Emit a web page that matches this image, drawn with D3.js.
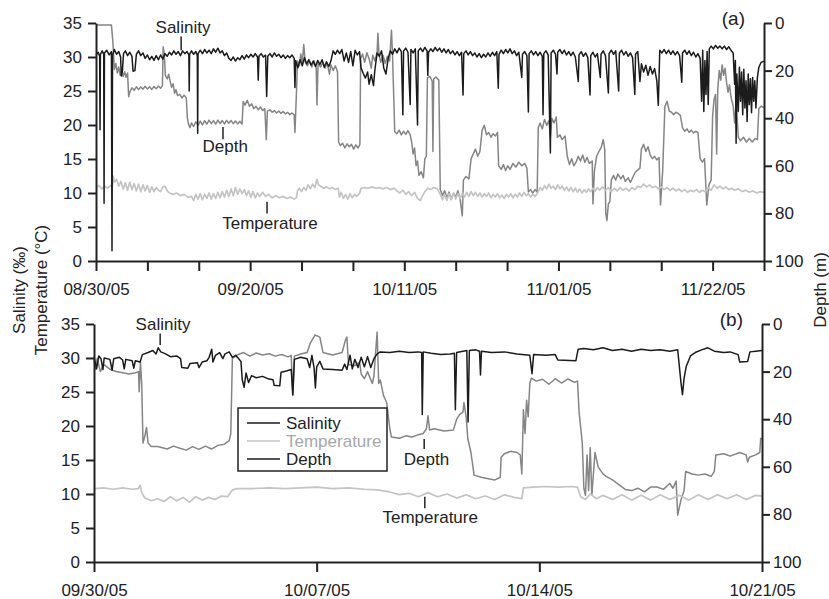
<!DOCTYPE html>
<html>
<head>
<meta charset="utf-8">
<script src="https://cdn.jsdelivr.net/npm/d3@7"></script>
<style>
  body { margin: 0; background: #fff; }
  svg { font-family: "Liberation Sans", Arial, Helvetica, sans-serif; }
</style>
</head>
<body>
<svg id="chart" width="829" height="599"></svg>
<script>
const colours = {
  salinity: '#1b1b1b',
  temperature: '#c4c4c4',
  depth: '#858585',
  axis: '#222',
  legendTemp: '#a8a8a8',
};

// ---- panel (a): days since 08/30/05 ----
const salinityA = [
  [0,30.3],[0.3,30.7],[0.5,30.1],[0.55,19.3],[0.6,30.4],[0.85,30.9],[1.05,30.4],[1.1,8.5],[1.15,30.6],
  [1.45,31.0],[1.8,30.3],[2.1,30.8],[2.18,1.5],[2.25,30.2],[2.5,31.1],[2.8,30.4],[3.1,30.8],[3.35,30.0],
  [3.45,27.2],[3.6,28.0],[3.75,30.5],[4.0,30.9],[4.3,30.2],[4.6,30.7],[4.9,30.1],[5.05,27.9],[5.3,28.0],
  [5.5,30.4],[5.8,30.9],[6.1,30.2],[6.4,30.6],[6.7,29.8],[7.0,30.3],[7.3,29.6],[7.6,30.1],[7.9,29.5],
  [8.2,30.2],[8.5,29.6],[8.8,30.3],[9.1,29.7],[9.4,30.5],[9.7,30.1],[10.0,30.7],[10.3,30.3],[10.6,30.9],
  [10.9,30.4],[11.2,30.8],[11.5,30.2],[11.8,30.9],[12.1,30.5],[12.4,30.8],[12.65,30.3],[12.7,25.0],
  [12.75,30.4],[13.0,30.9],[13.3,30.4],[13.6,30.8],[13.8,30.2],[13.85,18.8],[13.9,30.5],[14.2,31.0],
  [14.5,30.5],[14.8,31.1],[15.1,30.6],[15.4,31.0],[15.7,30.5],[16.0,31.2],[16.3,30.7],[16.6,31.3],
  [16.9,30.6],[17.2,30.9],[17.5,30.2],[17.8,30.6],[18.1,29.8],[18.4,29.5],[18.7,30.0],[19.0,29.4],
  [19.3,29.9],[19.6,29.6],[19.9,30.2],[20.2,29.7],[20.5,30.3],[20.8,29.9],[21.1,30.4],[21.4,30.0],
  [21.7,30.5],[22.0,30.0],[22.1,26.6],[22.2,30.1],[22.5,30.5],[22.8,30.0],[23.1,30.3],[23.25,24.2],
  [23.4,30.1],[23.7,30.5],[24.0,30.0],[24.3,30.6],[24.6,30.1],[24.9,30.4],[25.2,29.9],[25.5,30.3],
  [25.8,29.8],[26.1,30.2],[26.4,29.9],[26.7,30.3],[27.0,29.8],[27.1,25.5],[27.2,29.5],[27.5,28.4],
  [27.8,29.6],[28.1,28.7],[28.4,29.9],[28.7,29.0],[29.0,29.6],[29.3,28.8],[29.6,29.4],[29.9,28.6],
  [30.2,29.5],[30.5,28.9],[30.8,29.6],[31.1,28.5],[31.4,29.3],[31.7,28.6],[32.0,29.4],[32.3,30.9],
  [32.6,30.4],[32.9,31.0],[33.2,30.5],[33.5,31.1],[33.8,29.4],[34.1,30.6],[34.4,29.2],[34.7,30.8],
  [35.0,28.7],[35.3,31.0],[35.6,30.3],[35.9,30.8],[36.1,28.4],[36.4,27.6],[36.7,26.9],[37.0,27.8],
  [37.2,26.0],[37.5,27.4],[37.8,25.8],[38.0,28.2],[38.3,30.6],[38.6,30.1],[38.9,30.9],[39.2,28.4],
  [39.5,27.5],[39.8,29.8],[40.1,30.9],[40.4,30.4],[40.7,31.2],[41.0,30.6],[41.3,31.3],[41.6,30.8],
  [41.8,21.5],[41.9,30.9],[42.2,31.3],[42.5,30.7],[42.8,23.0],[42.9,31.1],[43.2,30.6],[43.5,31.2],
  [43.8,20.0],[43.9,30.9],[44.2,31.3],[44.5,30.8],[44.8,31.4],[45.1,30.9],[45.2,27.3],[45.3,30.7],
  [45.6,31.2],[45.9,30.8],[46.2,31.4],[46.5,30.9],[46.8,31.3],[47.1,30.7],[47.4,31.2],[47.7,30.6],
  [48.0,31.1],[48.3,30.5],[48.6,30.9],[48.9,30.3],[49.2,30.8],[49.5,30.2],[49.8,30.7],[50.0,24.4],
  [50.1,30.5],[50.4,30.9],[50.7,30.3],[51.0,30.8],[51.3,30.2],[51.6,30.6],[51.9,30.0],[52.2,30.5],
  [52.5,29.9],[52.8,30.4],[53.1,30.0],[53.4,30.6],[53.7,30.1],[54.0,30.7],[54.3,30.2],[54.6,30.8],
  [54.8,25.4],[54.9,30.4],[55.2,31.0],[55.5,30.5],[55.8,31.1],[56.1,30.6],[56.4,31.2],[56.7,30.5],
  [57.0,30.9],[57.3,30.2],[57.6,30.7],[58.0,27.0],[58.1,30.4],[58.4,30.8],[58.7,30.2],[58.9,21.9],
  [59.0,30.5],[59.3,30.9],[59.6,30.3],[59.9,30.8],[60.2,30.2],[60.5,30.7],[60.8,30.1],[60.9,21.5],
  [61.0,30.5],[61.3,30.9],[61.6,30.3],[61.9,15.9],[62.0,30.6],[62.3,31.0],[62.6,30.4],[62.8,27.5],
  [62.9,30.7],[63.2,31.1],[63.5,30.5],[63.8,31.0],[64.1,30.3],[64.4,30.8],[64.7,30.2],[65.0,30.7],
  [65.3,30.0],[65.7,26.4],[65.8,30.3],[66.1,30.8],[66.4,30.1],[66.7,30.6],[67.0,29.9],[67.3,24.4],
  [67.4,30.2],[67.7,30.7],[68.0,30.0],[68.3,30.5],[68.7,27.0],[68.8,30.4],[69.1,30.9],[69.4,30.2],
  [69.8,24.7],[69.9,30.5],[70.2,31.0],[70.5,30.4],[70.8,30.9],[71.2,25.0],[71.3,30.6],[71.6,31.0],
  [71.9,30.3],[72.2,30.8],[72.5,30.1],[72.8,30.6],[73.1,29.9],[73.4,24.5],[73.5,30.4],[73.8,30.8],
  [74.1,26.4],[74.3,29.0],[74.6,27.8],[74.9,28.8],[75.2,27.3],[75.5,28.6],[75.8,27.5],[76.1,28.3],
  [76.4,26.5],[76.6,22.9],[76.8,31.0],[77.1,30.6],[77.4,31.1],[77.7,30.5],[78.0,31.0],[78.3,30.4],
  [78.6,30.9],[78.9,30.3],[79.2,30.8],[79.5,30.2],[79.8,26.3],[79.9,30.6],[80.2,31.0],[80.5,30.4],
  [80.8,30.9],[81.1,30.2],[81.4,30.7],[81.7,30.0],[82.0,30.5],[82.3,29.8],[82.5,23.5],[82.65,31.0],
  [82.8,22.0],[82.95,29.5],[83.1,24.5],[83.25,30.8],[83.4,23.0],[83.55,31.2],[83.8,31.6],[84.1,31.2],
  [84.4,31.7],[84.7,31.3],[85.0,31.6],[85.3,31.2],[85.6,31.6],[85.9,31.1],[86.2,31.5],[86.5,31.0],
  [86.8,30.6],[87.0,26.0],[87.1,29.5],[87.2,17.3],[87.3,27.5],[87.5,22.0],[87.65,28.5],[87.8,23.5],
  [87.95,27.8],[88.1,21.5],[88.25,28.2],[88.4,22.5],[88.55,26.5],[88.7,20.5],[88.85,27.5],[89.0,23.0],
  [89.15,26.8],[89.3,21.8],[89.45,27.0],[89.6,23.5],[89.75,26.5],[89.9,22.5],[90.1,27.0],[90.3,28.5],
  [90.6,29.2],[91.0,29.4],
];

const temperatureA = [
  [0,10.8],[0.4,11.1],[0.8,10.6],[1.2,11.0],[1.6,10.7],[2.0,11.1],[2.2,10.8],[2.35,12.5],[2.5,11.6],
  [2.8,12.0],[3.1,11.0],[3.4,11.7],[3.7,10.6],[4.0,11.5],[4.3,10.4],[4.6,11.6],[4.9,10.5],[5.2,11.4],
  [5.5,10.3],[5.8,11.3],[6.1,10.2],[6.4,11.2],[6.7,10.3],[7.0,11.1],[7.3,10.1],[7.6,10.9],[7.9,10.2],
  [8.2,10.8],[8.5,10.4],[8.8,10.2],[9.1,10.9],[9.4,11.0],[9.7,10.3],[10.0,10.0],[10.5,9.8],[11.0,10.0],
  [11.5,9.6],[12.0,9.8],[12.5,9.4],[13.0,9.5],[13.3,8.9],[13.6,9.8],[13.9,9.1],[14.2,9.9],[14.5,9.0],
  [14.8,9.8],[15.1,9.2],[15.4,10.0],[15.7,9.1],[16.0,9.9],[16.3,9.2],[16.6,10.1],[16.9,9.3],[17.2,10.2],
  [17.5,9.4],[17.8,10.4],[18.1,9.5],[18.4,10.6],[18.7,9.6],[19.0,10.8],[19.3,9.8],[19.6,10.6],[19.9,9.9],
  [20.2,10.5],[20.5,9.6],[20.8,10.3],[21.1,9.4],[21.4,10.2],[21.7,9.3],[22.0,10.0],[22.3,9.5],[22.7,10.1],
  [23.1,9.5],[23.5,9.8],[24.0,9.3],[24.5,9.6],[25.0,9.3],[25.5,9.5],[26.0,9.2],[26.5,9.4],[27.0,9.1],
  [27.3,9.3],[27.45,10.3],[27.7,10.7],[28.0,10.2],[28.3,10.8],[28.6,10.4],[28.9,11.2],[29.2,10.6],
  [29.5,11.3],[29.8,10.8],[30.1,12.0],[30.3,11.2],[30.6,11.0],[31.0,10.7],[31.4,10.9],[31.8,10.6],
  [32.2,10.8],[32.6,10.5],[33.0,10.7],[33.15,9.4],[33.4,10.1],[33.7,9.2],[34.0,9.8],[34.3,9.1],[34.6,9.9],
  [34.9,9.3],[35.2,9.8],[35.5,9.5],[35.9,9.9],[36.1,10.7],[36.6,10.8],[37.1,10.7],[37.6,10.9],[38.1,10.7],
  [38.6,10.8],[39.1,10.6],[39.6,10.8],[40.1,10.5],[40.6,10.7],[41.0,10.3],[41.4,10.0],[41.8,10.4],
  [42.2,9.8],[42.6,10.2],[43.0,9.6],[43.4,10.1],[43.8,9.2],[44.2,8.9],[44.5,9.6],[44.8,10.2],[45.2,10.7],
  [45.6,10.5],[46.0,10.8],[46.5,10.6],[46.9,9.8],[47.2,9.0],[47.5,9.8],[47.8,8.9],[48.1,9.9],[48.4,9.0],
  [48.7,10.0],[49.0,9.1],[49.3,9.9],[49.6,9.2],[49.9,10.0],[50.2,9.4],[50.5,10.1],[50.8,9.5],[51.1,10.2],
  [51.4,9.6],[51.7,10.1],[52.0,9.5],[52.3,10.0],[52.6,9.4],[52.9,9.9],[53.2,9.5],[53.5,10.0],[53.8,9.3],
  [54.1,9.8],[54.4,9.4],[54.7,9.9],[55.0,9.3],[55.3,9.7],[55.6,9.2],[55.9,9.8],[56.2,9.4],[56.5,9.9],
  [56.8,9.3],[57.1,9.8],[57.4,9.4],[57.7,10.0],[58.0,9.5],[58.3,10.1],[58.6,9.6],[58.9,9.9],[59.2,9.4],
  [59.5,9.8],[59.8,9.5],[60.1,9.9],[60.5,10.8],[60.8,10.4],[61.1,11.1],[61.4,10.6],[61.7,11.3],[62.0,10.7],
  [62.3,11.0],[62.6,10.5],[62.9,11.2],[63.2,10.6],[63.5,11.0],[63.8,10.4],[64.1,10.9],[64.4,10.3],
  [64.7,10.8],[65.0,10.2],[65.3,10.7],[65.6,10.1],[65.9,10.6],[66.2,10.0],[66.5,10.5],[66.8,10.1],
  [67.1,10.6],[67.4,10.2],[67.7,10.7],[68.0,10.3],[68.3,10.8],[68.6,10.4],[69.0,10.9],[69.4,10.4],
  [69.8,10.8],[70.2,10.2],[70.6,10.7],[71.0,10.3],[71.4,10.8],[71.8,10.4],[72.2,10.7],[72.6,10.3],
  [73.0,10.8],[73.4,10.5],[73.8,11.0],[74.2,10.8],[74.6,11.3],[75.0,10.9],[75.4,11.2],[75.8,10.8],
  [76.2,11.0],[76.6,10.6],[77.0,10.9],[77.4,10.5],[77.8,10.8],[78.2,10.4],[78.6,10.7],[79.0,10.3],
  [79.4,10.6],[79.8,10.2],[80.2,10.5],[80.6,10.1],[81.0,10.4],[81.4,10.2],[81.8,10.5],[82.2,10.1],
  [82.6,10.4],[83.0,10.2],[83.4,10.8],[83.8,10.4],[84.2,11.2],[84.6,10.7],[85.0,11.0],[85.4,10.6],
  [85.8,10.9],[86.2,10.5],[86.6,10.7],[87.0,10.4],[87.5,10.6],[88.0,10.2],[88.5,10.4],[89.0,10.1],
  [89.5,10.3],[90.0,10.0],[90.5,10.2],[91.0,10.1],
];

const depthA = [
  [0,0.8],[2.1,0.8],[2.3,8],[2.5,19.5],[2.7,17],[2.9,21],[3.1,18.5],[3.3,22],[3.5,19.8],[3.7,22.5],
  [3.9,20.5],[4.1,22.8],[4.3,21],[4.45,31],[4.6,29],[4.9,27.2],[5.2,28.3],[5.5,26.8],[5.8,28],[6.1,26.9],
  [6.4,27.8],[6.7,26.6],[7.0,27.7],[7.3,26.8],[7.6,27.9],[7.9,26.7],[8.2,27.6],[8.5,26.5],[8.8,27.4],
  [9.05,26.3],[9.15,10],[9.3,13],[9.45,22],[9.7,23.5],[9.9,21.5],[10.1,24.5],[10.3,27],[10.5,25.5],
  [10.7,29.5],[10.9,28],[11.1,30.5],[11.4,30],[11.7,31.5],[12.0,30.3],[12.3,31.5],[12.45,40],[12.6,42.5],
  [12.8,44],[13.0,42],[13.3,43.5],[13.6,41.5],[13.9,43],[14.2,41.2],[14.5,42.8],[14.8,41],[15.1,42.5],
  [15.4,40.8],[15.7,42.3],[16.0,41],[16.3,42.5],[16.6,40.8],[16.9,42.2],[17.2,41],[17.5,42.4],[17.8,40.9],
  [18.1,42.1],[18.4,41],[18.7,42.3],[19.0,41.2],[19.3,42.4],[19.6,41.3],[19.9,42.5],[20.05,33],[20.3,34.5],
  [20.6,32.5],[20.9,35],[21.2,34],[21.5,36],[21.8,35],[22.1,36.5],[22.4,35.3],[22.7,36.8],[23.0,36],
  [23.2,49],[23.35,37],[23.7,36.5],[24.0,37.5],[24.3,36.8],[24.6,37.8],[24.9,37],[25.2,38],[25.5,37.2],
  [25.8,38.2],[26.1,37.5],[26.4,38.5],[26.7,37.8],[27.0,38.6],[27.1,46],[27.3,30],[27.45,16],[27.7,18],
  [27.9,13],[28.1,17],[28.3,9],[28.5,16.5],[28.8,18],[29.1,16],[29.4,18.5],[29.7,15.8],[30.0,19],
  [30.1,34.5],[30.25,17],[30.6,18.5],[30.9,16.5],[31.2,19],[31.5,17],[31.8,21.5],[32.0,17.5],[32.3,20],
  [32.6,18],[32.9,20.5],[33.05,50],[33.3,51.5],[33.6,50.5],[33.9,52.5],[34.2,50.8],[34.5,52],[34.8,51],
  [35.1,53],[35.4,51.2],[35.7,52.5],[35.95,51],[36.05,15],[36.3,13],[36.6,16.5],[36.9,12.5],[37.2,15],
  [37.5,19],[37.7,13.5],[38.0,16],[38.3,12],[38.4,4.3],[38.55,13],[38.8,16.5],[39.1,13.5],[39.4,17],
  [39.7,14],[40.0,16],[40.25,3],[40.4,14],[40.55,30],[40.7,45.8],[41.0,46.5],[41.3,45],[41.6,47],
  [41.9,45.5],[42.2,46.8],[42.5,45.2],[42.8,47],[43.0,50],[43.2,55],[43.4,52.5],[43.6,60],[43.8,58],
  [44.0,64],[44.3,62.5],[44.6,65],[44.8,57],[45.0,56],[45.15,23],[45.5,22.5],[45.8,24.5],[45.9,54],
  [46.0,23.5],[46.3,22.7],[46.7,24],[46.9,70],[47.2,72.5],[47.5,70.5],[47.8,73.5],[48.1,71],[48.4,74],
  [48.7,71.5],[49.0,73],[49.3,70.5],[49.6,74],[49.9,81],[50.05,66],[50.4,64.5],[50.8,65.5],[51.1,57],
  [51.4,55],[51.7,53],[52.0,56],[52.3,54],[52.6,45],[52.9,43],[53.2,47],[53.5,46],[53.8,48],[54.1,46.5],
  [54.4,47.5],[54.7,46],[54.85,60],[55.2,61.5],[55.5,59.5],[55.8,62],[56.1,60],[56.4,61.5],[56.8,59],
  [57.2,60.5],[57.6,58.5],[58.0,60],[58.4,59],[58.7,61],[58.9,71],[59.2,70],[59.5,71.5],[59.8,70],
  [60.1,71],[60.25,44],[60.5,42],[60.8,44.5],[61.1,40.5],[61.4,43],[61.7,41],[61.9,48],[62.1,40],
  [62.4,42],[62.7,39.5],[62.85,48],[63.2,47],[63.5,49],[63.9,47.5],[64.2,56],[64.5,59.5],[64.8,57],
  [65.1,60],[65.4,58.5],[65.7,56],[66.0,58],[66.3,55.5],[66.6,58.5],[66.9,56.5],[67.2,59],[67.6,58],
  [67.7,76],[67.9,62],[68.2,56],[68.5,54],[68.8,52.5],[69.1,49],[69.3,53],[69.45,80],[69.6,83],[69.8,76],
  [70.0,75],[70.2,66],[70.5,64],[70.8,66],[71.1,63.5],[71.5,65.5],[71.8,64],[72.1,66.5],[72.5,65],
  [72.8,67],[73.1,65],[73.4,63],[73.7,62],[74.1,61],[74.3,53],[74.6,51],[74.9,54],[75.2,52],[75.5,55.5],
  [75.8,57],[76.1,56],[76.4,57.5],[76.7,56.5],[76.9,76.5],[77.2,62],[77.5,35],[77.8,33],[78.1,37],
  [78.4,37.5],[78.7,38.5],[79.0,37.5],[79.3,38],[79.6,38.8],[79.9,44],[80.2,45.5],[80.5,44.5],[80.8,46],
  [81.1,45],[81.4,46.2],[81.7,45.5],[82.0,46],[82.3,57],[82.6,58.5],[82.9,57],[83.2,76.5],[83.5,68],
  [83.8,66],[84.0,39],[84.2,32],[84.4,30],[84.55,55],[84.7,28],[84.9,20],[85.1,24],[85.3,17.6],[85.5,22],
  [85.7,19],[85.9,25],[86.1,29],[86.3,26],[86.5,31],[86.8,35],[87.0,42],[87.2,33],[87.5,48],[87.8,49.5],
  [88.2,48],[88.6,50],[89.0,48.5],[89.4,50],[89.8,48.5],[90.1,49],[90.3,36],[90.6,35],[91.0,35.5],
];

// ---- panel (b): days since 09/30/05 ----
const salinityB = [
  [0,30.2],[0.08,28.4],[0.15,30.3],[0.22,29.9],[0.28,28.3],[0.32,30.0],[0.5,29.8],[0.57,28.2],[0.62,29.9],
  [0.8,30.1],[0.9,29.7],[0.95,28.4],[1.0,29.8],[1.2,29.6],[1.25,28.5],[1.3,29.6],[1.45,29.4],[1.52,30.5],
  [1.7,30.8],[1.85,31.1],[1.95,30.6],[2.02,31.5],[2.1,30.9],[2.25,30.6],[2.4,30.2],[2.6,30.3],[2.72,29.9],
  [2.76,28.6],[2.95,28.5],[3.02,29.2],[3.25,29.3],[3.3,28.6],[3.4,29.4],[3.55,29.6],[3.62,30.1],[3.7,31.3],
  [3.74,29.4],[3.82,30.4],[3.95,30.8],[4.05,29.9],[4.12,30.6],[4.25,30.9],[4.35,30.1],[4.45,30.4],
  [4.55,29.9],[4.62,29.5],[4.66,26.8],[4.72,25.7],[4.78,27.8],[4.86,26.4],[4.95,27.4],[5.1,27.1],
  [5.3,27.3],[5.5,26.9],[5.63,26.8],[5.66,26.0],[5.84,25.9],[5.88,27.9],[6.05,28.1],[6.2,28.3],[6.25,24.6],
  [6.3,29.8],[6.5,30.1],[6.7,29.9],[6.78,28.6],[6.85,30.4],[6.92,28.5],[6.96,25.6],[7.0,28.7],[7.1,29.5],
  [7.2,28.4],[7.5,28.3],[7.8,28.2],[7.88,29.1],[7.95,28.3],[8.05,30.4],[8.12,28.4],[8.2,29.8],[8.3,28.6],
  [8.4,30.1],[8.5,28.7],[8.6,30.2],[8.7,28.6],[8.8,29.9],[8.9,30.6],[9.0,30.9],[9.3,30.8],[9.6,31.0],
  [9.9,30.8],[10.2,30.9],[10.3,30.8],[10.32,21.7],[10.35,30.9],[10.6,30.7],[10.9,30.5],[11.2,30.6],
  [11.33,30.7],[11.36,22.4],[11.4,30.8],[11.6,31.0],[11.72,31.1],[11.76,20.6],[11.8,31.1],[12.0,31.2],
  [12.12,31.0],[12.15,27.5],[12.18,31.0],[12.5,30.8],[12.9,30.9],[13.3,30.6],[13.7,30.4],[13.77,27.7],
  [13.82,30.5],[14.2,30.4],[14.5,30.5],[14.58,29.7],[15.15,29.6],[15.22,31.3],[15.4,31.4],[15.7,31.2],
  [16.0,31.5],[16.3,31.1],[16.6,31.3],[16.9,31.0],[17.2,31.3],[17.5,31.1],[17.8,31.2],[18.1,31.0],
  [18.35,31.2],[18.45,26.5],[18.5,24.6],[18.55,27.0],[18.62,28.8],[18.75,30.3],[18.9,30.8],[19.1,31.2],
  [19.3,31.5],[19.5,31.0],[19.8,30.8],[20.0,30.9],[20.25,30.5],[20.3,29.4],[20.55,29.5],[20.62,30.9],
  [20.8,31.0],[21,31.1],
];

const temperatureB = [
  [0,10.8],[0.3,10.9],[0.6,10.7],[0.9,10.9],[1.2,10.7],[1.4,10.8],[1.45,11.3],[1.5,10.2],[1.6,9.4],
  [1.8,9.0],[2.0,9.3],[2.2,8.9],[2.4,9.6],[2.6,9.0],[2.8,9.5],[3.0,8.8],[3.2,9.6],[3.4,9.1],[3.6,9.5],
  [3.8,9.2],[4.0,9.7],[4.2,9.6],[4.35,10.6],[4.5,10.8],[5.0,10.8],[5.5,10.9],[6.0,10.8],[6.5,10.9],
  [7.0,11.0],[7.5,10.8],[8.0,10.9],[8.5,10.7],[8.9,10.6],[9.3,10.3],[9.6,9.9],[9.9,10.1],[10.2,9.6],
  [10.5,10.2],[10.8,9.6],[11.1,10.0],[11.4,9.4],[11.7,9.9],[12.0,9.3],[12.3,9.7],[12.6,9.2],[12.9,9.9],
  [13.2,9.5],[13.45,9.3],[13.5,10.9],[13.8,11.0],[14.2,11.1],[14.6,11.0],[15.0,11.1],[15.2,11.0],
  [15.3,9.6],[15.45,9.2],[15.6,10.0],[15.8,9.3],[16.0,9.8],[16.3,9.2],[16.6,9.9],[16.9,9.1],[17.2,9.8],
  [17.5,9.1],[17.8,9.9],[18.1,9.2],[18.4,9.8],[18.7,9.1],[19.0,9.9],[19.3,9.2],[19.6,9.9],[19.9,9.3],
  [20.2,9.9],[20.5,9.2],[20.8,9.8],[21,9.7],
];

const depthB = [
  [0,15],[0.05,19],[0.1,14.5],[0.2,20],[0.3,17],[0.5,19],[0.7,20],[0.9,20.5],[1.1,21],[1.3,20.5],
  [1.4,20],[1.42,28.5],[1.46,16],[1.5,25],[1.54,50],[1.6,47],[1.65,43.5],[1.7,50],[1.8,51.5],[2.0,51.5],
  [2.3,52.5],[2.5,51.3],[2.7,52.2],[2.9,53],[3.1,51.5],[3.3,52.7],[3.5,51.3],[3.7,52.5],[3.9,51],
  [4.1,50.5],[4.25,49],[4.3,46],[4.35,14.5],[4.5,13],[4.7,12],[4.9,13.5],[5.1,12.2],[5.3,13],[5.5,12.5],
  [5.7,13.5],[5.9,12.8],[6.1,13.8],[6.2,13.2],[6.25,30],[6.3,13.5],[6.5,12.6],[6.7,12],[6.8,8],[6.95,4.6],
  [7.1,5.5],[7.2,12],[7.5,13],[7.8,12],[7.9,7],[7.95,5.5],[8.0,17],[8.2,17.5],[8.35,16],[8.4,21],
  [8.5,23],[8.6,20],[8.75,25],[8.8,22],[8.9,3.4],[8.95,25],[9.0,23.5],[9.1,30],[9.2,33],[9.3,44],
  [9.35,47.5],[9.6,48],[9.8,47],[10.0,47.5],[10.2,46.5],[10.35,46],[10.45,44],[10.5,38.5],[10.55,44.5],
  [10.7,44],[11.0,45],[11.3,44.5],[11.4,40],[11.5,38],[11.6,37],[11.63,33],[11.7,39],[11.75,48],
  [11.85,54],[11.95,63.5],[12.2,64.5],[12.4,65],[12.6,65.5],[12.77,64.5],[12.8,56],[12.9,54.5],
  [13.1,53.5],[13.3,54],[13.4,55],[13.45,63],[13.5,36],[13.55,46],[13.6,32],[13.65,39],[13.7,25],
  [13.75,22.7],[13.9,24],[14.1,23.2],[14.3,25.3],[14.5,23],[14.7,24.8],[14.9,23.1],[15.1,24.5],[15.2,24],
  [15.25,37],[15.35,50],[15.4,69],[15.45,72],[15.5,55],[15.55,70],[15.6,52],[15.65,72],[15.75,54],
  [15.85,60],[16.0,63],[16.1,64],[16.3,65.5],[16.5,67.5],[16.7,69.5],[16.9,70],[17.1,69],[17.3,70.5],
  [17.5,68.5],[17.7,68.5],[17.9,69.5],[18.1,67],[18.2,69],[18.3,66],[18.35,80.3],[18.45,74],[18.55,70],
  [18.6,62],[18.8,63],[19.0,63.5],[19.2,63],[19.4,64],[19.5,62],[19.55,55],[19.8,54.5],[20.0,55.5],
  [20.3,54],[20.5,55],[20.55,58],[20.6,56],[20.8,55],[20.93,54],[20.96,48],[21,48.5],
];

// axis ticks and labels
const leftTicks = [0, 5, 10, 15, 20, 25, 30, 35];
const depthTicks = [0, 20, 40, 60, 80, 100];
const weekLabelsA = ['08/30/05', '', '', '09/20/05', '', '', '10/11/05', '', '', '11/01/05', '', '', '11/22/05', ''];
const weekLabelsB = ['09/30/05', '10/07/05', '10/14/05', '10/21/05'];
const legendItems = ['Salinity', 'Temperature', 'Depth'];

const svg = d3.select('#chart');
const dayMs = 864e5;

function drawPanel(p) {
  const g = svg.append('g');
  const dayToDate = d => new Date(p.start + d * dayMs);
  const x = d3.scaleUtc()
    .domain([dayToDate(0), dayToDate(p.days)])
    .range([p.left, p.right]);
  const y = d3.scaleLinear().domain([0, 35]).range([p.bottom, p.top]);
  const yDepth = d3.scaleLinear().domain([0, 100]).range([p.top, p.bottom]);

  const lineLeft = d3.line().x(d => x(dayToDate(d[0]))).y(d => y(d[1]));
  const lineDepth = d3.line().x(d => x(dayToDate(d[0]))).y(d => yDepth(d[1]));

  g.append('path').datum(p.depth).attr('d', lineDepth)
    .attr('fill', 'none').attr('stroke', colours.depth).attr('stroke-width', 1.5)
    .attr('stroke-linejoin', 'round');
  g.append('path').datum(p.temperature).attr('d', lineLeft)
    .attr('fill', 'none').attr('stroke', colours.temperature).attr('stroke-width', 1.7)
    .attr('stroke-linejoin', 'round');
  g.append('path').datum(p.salinity).attr('d', lineLeft)
    .attr('fill', 'none').attr('stroke', colours.salinity).attr('stroke-width', 1.5)
    .attr('stroke-linejoin', 'round');

  // axes
  const weeks = p.labels.map((_, i) => dayToDate(i * 7));
  const styleAxis = sel => {
    sel.select('.domain').attr('stroke', colours.axis).attr('stroke-width', 2);
    sel.selectAll('.tick line').attr('stroke', colours.axis).attr('stroke-width', 2);
    sel.selectAll('.tick text').attr('fill', colours.axis).attr('font-size', 17);
    sel.attr('font-family', null);
  };
  g.append('g').attr('transform', `translate(0,${p.bottom})`)
    .call(d3.axisBottom(x).tickValues(weeks).tickSize(10).tickSizeOuter(0).tickPadding(12)
      .tickFormat((d, i) => p.labels[i]))
    .call(styleAxis);
  g.append('g').attr('transform', `translate(${p.left},0)`)
    .call(d3.axisLeft(y).tickValues(leftTicks).tickSize(8).tickSizeOuter(0).tickPadding(6))
    .call(styleAxis);
  g.append('g').attr('transform', `translate(${p.right},0)`)
    .call(d3.axisRight(yDepth).tickValues(depthTicks).tickSize(8).tickSizeOuter(0).tickPadding(3))
    .call(styleAxis);

  // panel letter
  g.append('text').attr('x', p.right - 19).attr('y', p.top + 2)
    .attr('text-anchor', 'end').attr('font-size', 19).attr('fill', colours.axis)
    .text(p.letter);

  // series annotations with leader lines
  p.notes.forEach(n => {
    g.append('line')
      .attr('x1', x(dayToDate(n.lx))).attr('x2', x(dayToDate(n.lx)))
      .attr('y1', y(n.l1)).attr('y2', y(n.l2))
      .attr('stroke', colours.axis).attr('stroke-width', 1.5);
    g.append('text').attr('x', x(dayToDate(n.tx))).attr('y', y(n.ty))
      .attr('text-anchor', 'middle').attr('font-size', 17).attr('fill', colours.axis)
      .text(n.text);
  });
}

drawPanel({
  start: Date.UTC(2005, 7, 30), days: 91,
  left: 96, right: 764, top: 23, bottom: 261,
  salinity: salinityA, temperature: temperatureA, depth: depthA,
  labels: weekLabelsA, letter: '(a)',
  notes: [
    { text: 'Salinity', tx: 11.85, ty: 33.6, lx: 11.6, l1: 33.0, l2: 31.0 },
    { text: 'Depth', tx: 17.6, ty: 16.0, lx: 17.3, l1: 19.7, l2: 17.9 },
    { text: 'Temperature', tx: 23.7, ty: 4.7, lx: 23.3, l1: 8.7, l2: 7.0 },
  ],
});

drawPanel({
  start: Date.UTC(2005, 8, 30), days: 21,
  left: 94, right: 762, top: 324, bottom: 562,
  salinity: salinityB, temperature: temperatureB, depth: depthB,
  labels: weekLabelsB, letter: '(b)',
  notes: [
    { text: 'Salinity', tx: 2.17, ty: 34.1, lx: 2.08, l1: 33.6, l2: 31.9 },
    { text: 'Depth', tx: 10.45, ty: 14.2, lx: 10.38, l1: 18.1, l2: 16.6 },
    { text: 'Temperature', tx: 10.57, ty: 5.7, lx: 10.4, l1: 9.6, l2: 7.9 },
  ],
});

// legend in panel (b)
const legendColours = [colours.salinity, colours.temperature, colours.salinity];
const legendText = [colours.axis, colours.legendTemp, colours.axis];
const legend = svg.append('g').attr('transform', 'translate(238,408)');
legend.append('rect').attr('width', 149).attr('height', 63)
  .attr('fill', '#fff').attr('stroke', colours.axis).attr('stroke-width', 1.5);
legendItems.forEach((name, i) => {
  const row = legend.append('g').attr('transform', `translate(0,${15 + i * 18})`);
  row.append('line').attr('x1', 9).attr('x2', 42)
    .attr('stroke', legendColours[i]).attr('stroke-width', 1.5);
  row.append('text').attr('x', 48).attr('y', 6).attr('font-size', 17)
    .attr('fill', legendText[i]).text(name);
});

// axis titles
svg.append('text').attr('transform', 'translate(25,290) rotate(-90)')
  .attr('text-anchor', 'middle').attr('font-size', 17).attr('fill', colours.axis)
  .text('Salinity (‰)');
svg.append('text').attr('transform', 'translate(47,290) rotate(-90)')
  .attr('text-anchor', 'middle').attr('font-size', 17).attr('fill', colours.axis)
  .text('Temperature (°C)');
svg.append('text').attr('transform', 'translate(826,290) rotate(-90)')
  .attr('text-anchor', 'middle').attr('font-size', 17).attr('fill', colours.axis)
  .text('Depth (m)');
</script>
</body>
</html>
